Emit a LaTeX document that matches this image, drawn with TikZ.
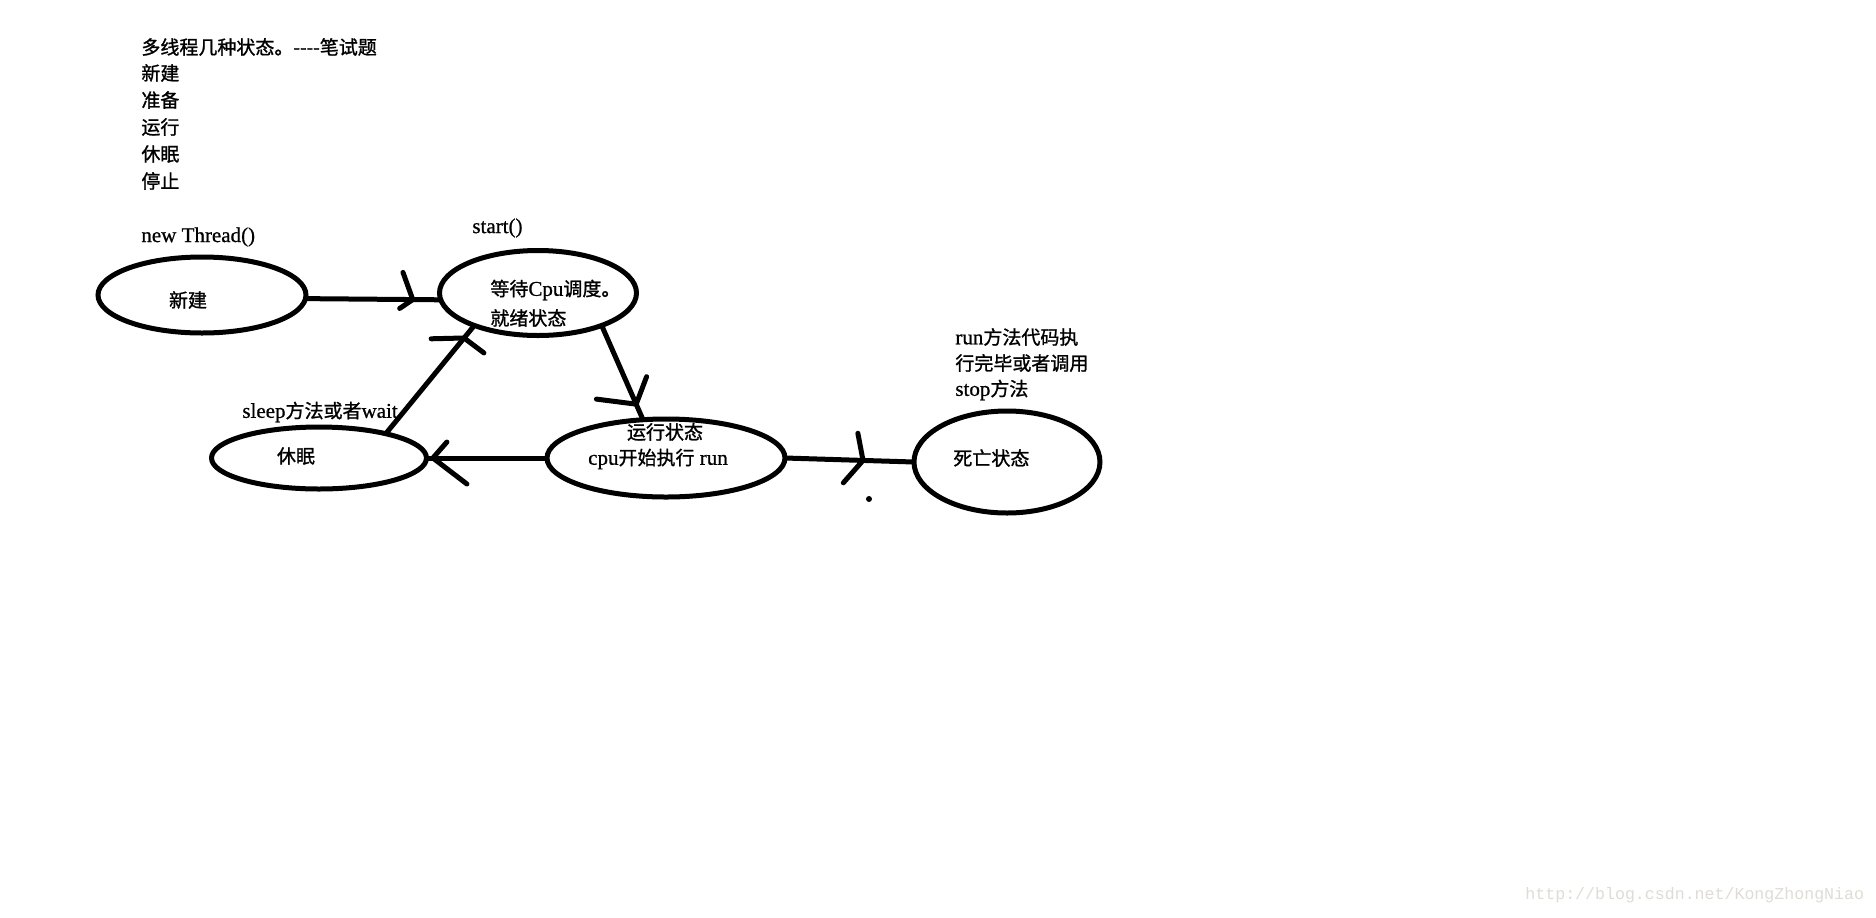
\documentclass[tikz,border=0pt]{standalone}
\usepackage{fontspec}
\setmainfont{Liberation Serif}[FakeBold=0.8]
\setmonofont{Liberation Mono}
\newfontfamily\cjk{Noto Sans CJK SC}[Scale=0.905,FakeBold=1.2]
\usetikzlibrary{shapes.geometric,decorations.markings}
\definecolor{wm}{RGB}{222,220,212}
\begin{document}
\begin{tikzpicture}[x=0.5pt,y=-0.5pt,
  state/.style={ellipse,draw,line width=2.5pt,inner sep=0pt,outer sep=0pt},
  txt/.style={anchor=west,inner sep=0pt,font=\fontsize{10.5pt}{12pt}\selectfont},
  lbl/.style={anchor=center,inner sep=0pt,font=\fontsize{10.5pt}{12pt}\selectfont},
  conn/.style={line width=2.5pt,postaction={decorate}},
  barb/.style={line width=2.5pt,line cap=round}]
\useasboundingbox (0,0) rectangle (1876,917);

% header text
\node[txt] (h1) at (141,47) {\cjk 多线程几种状态。----笔试题};
\node[txt] (h2) at (141,73) {\cjk 新建};
\node[txt] (h3) at (141,100) {\cjk 准备};
\node[txt] (h4) at (141,127) {\cjk 运行};
\node[txt] (h5) at (141,154) {\cjk 休眠};
\node[txt] (h6) at (141,181) {\cjk 停止};
\node[txt] (newthread) at (141,237) {new Thread()};
\node[txt] (startlbl) at (472,228) {start()};
\node[txt] (sleeplbl) at (242,412) {sleep{\cjk 方法或者}wait};
\node[txt] (d1) at (955,337) {run{\cjk 方法代码执}};
\node[txt] (d2) at (955,363) {\cjk 行完毕或者调用};
\node[txt] (d3) at (955,390) {stop{\cjk 方法}};

% states
\node[state,minimum width=104pt,minimum height=38pt] (new) at (202,295) {};
\node[state,minimum width=98.5pt,minimum height=42.5pt] (wait) at (538,293) {};
\node[state,minimum width=107.5pt,minimum height=31pt] (sleep) at (319,458) {};
\node[state,minimum width=119pt,minimum height=39pt] (run) at (666,458) {};
\node[state,minimum width=93pt,minimum height=51pt] (dead) at (1007,462) {};

% state texts
\node[lbl] (newtxt) at (188,300) {\cjk 新建};
\node[txt] (waittxt1) at (490,290) {{\cjk 等待}Cpu{\cjk 调度。}};
\node[txt] (waittxt2) at (490,318) {\cjk 就绪状态};
\node[lbl] (sleeptxt) at (296,456) {\cjk 休眠};
\node[lbl] (runtxt1) at (665,432) {\cjk 运行状态};
\node[lbl] (runtxt2) at (658,459) {cpu{\cjk 开始执行} run};
\node[txt] (deadtxt) at (953,458) {\cjk 死亡状态};

% connectors
\draw[conn,decoration={markings,mark=at position -14pt with {\draw[barb] (0,0) -- (-5pt,13.5pt) (0,0) -- (-6.5pt,-4.5pt);}}] (new.-2) -- (wait.184);
\draw[conn,decoration={markings,mark=at position -8pt with {\draw[barb] (0,0) -- (-10.75pt,12.5pt) (0,0) -- (0.5pt,-12.4pt);}}] (sleep.20) -- (wait.207);
\draw[conn,decoration={markings,mark=at position -8.5pt with {\draw[barb] (0,0) -- (-10.5pt,10.3pt) (0,0) -- (-10.3pt,-17.2pt);}}] (wait.-27) -- (run.121);
\draw[conn,decoration={markings,mark=at position -3.2pt with {\draw[barb] (0,0) -- (-7pt,-8pt) (0,0) -- (-17pt,13pt);}}] (run.west) -- (sleep.east);
\draw[conn,decoration={markings,mark=at position -25.5pt with {\draw[barb] (0,0) -- (-3pt,13.5pt) (0,0) -- (-9.5pt,-11.5pt);}}] (run.east) -- (dead.west);

\node[circle,fill,inner sep=0pt,minimum size=3pt] (dot) at (869,499) {};

\node[anchor=west,inner sep=0pt,text=wm,font=\ttfamily\fontsize{8.3pt}{10pt}\selectfont] (watermark) at (1525,895) {http://blog.csdn.net/KongZhongNiao};
\end{tikzpicture}
\end{document}
